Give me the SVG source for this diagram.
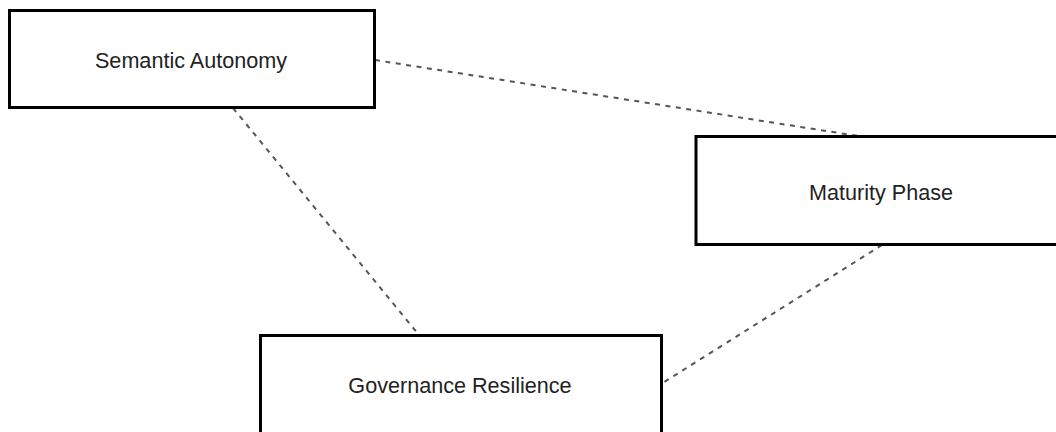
<svg xmlns="http://www.w3.org/2000/svg" width="1056" height="432" viewBox="0 0 1056 432">
<style>
.box{fill:#fff;stroke:#000;stroke-width:3}
.lbl{font-family:"Liberation Sans",Arial,sans-serif;font-size:21.6px;fill:#222;text-anchor:middle}
.conn{stroke:#555;stroke-width:2;stroke-dasharray:5 5.5;fill:none}
</style>
<rect width="1056" height="432" fill="#fff"/>
<g id="connectors">
<line class="conn" x1="375" y1="60" x2="858" y2="136"/>
<line class="conn" x1="233" y1="108" x2="419" y2="335"/>
<line class="conn" x1="882" y1="245" x2="661" y2="384"/>
</g>
<g id="node-semantic-autonomy">
<rect class="box" x="9.5" y="10.5" width="365" height="97"/>
<text class="lbl" x="191" y="67.5">Semantic Autonomy</text>
</g>
<g id="node-maturity-phase">
<rect class="box" x="696" y="136.5" width="372" height="108"/>
<text class="lbl" x="881" y="199.5">Maturity Phase</text>
</g>
<g id="node-governance-resilience">
<rect class="box" x="260.5" y="335.5" width="401" height="100"/>
<text class="lbl" x="460" y="392.5">Governance Resilience</text>
</g>
</svg>
